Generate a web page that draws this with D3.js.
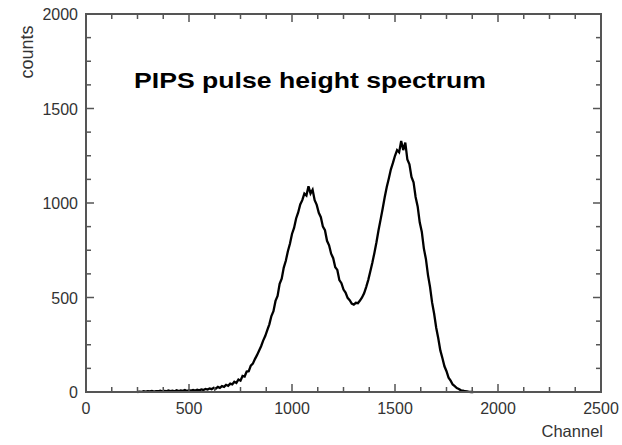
<!DOCTYPE html>
<html>
<head>
<meta charset="utf-8">
<script src="https://cdn.jsdelivr.net/npm/d3@7"></script>
<style>
  body { margin: 0; background: #fff; }
  text { font-family: "Liberation Sans", Arial, sans-serif; }
</style>
</head>
<body>
<div id="chart"></div>
<script>
// Spectrum: counts every 10 channels, starting at channel 250
const channelStart = 250;
const channelStep = 10;
const counts = [
  0, 2, 1, 4, 2, 5, 3, 6, 2, 5,
  4, 7, 3, 6, 4, 8, 5, 7, 4, 9,
  5, 8, 6, 10, 5, 9, 7, 11, 8, 12,
  9, 14, 11, 16, 13, 19, 15, 22, 18, 27,
  22, 31, 27, 38, 33, 44, 40, 54, 48, 66,
  60, 85, 82, 108, 110, 140, 150, 174, 195, 218,
  242, 272, 296, 328, 358, 402, 428, 482, 508, 572,
  600, 658, 694, 745, 784, 836, 868, 918, 950, 992,
  1015, 1050, 1040, 1088, 1050, 1070, 1015, 990, 948, 925,
  875, 856, 800, 776, 732, 708, 660, 646, 592, 576,
  542, 526, 498, 486, 468, 462, 472, 470, 484, 500,
  522, 555, 592, 638, 684, 736, 792, 856, 912, 970,
  1030, 1085, 1130, 1178, 1212, 1250, 1280, 1268, 1328, 1280,
  1320, 1230, 1205, 1138, 1110, 1032, 982, 898, 848, 760,
  704, 620, 556, 474, 414, 340, 284, 220, 180, 136,
  110, 76, 60, 40, 31, 21, 16, 9, 7, 4,
  3, 1, 0, 0
];
const xTicks = [0, 500, 1000, 1500, 2000, 2500];
const yTicks = [0, 500, 1000, 1500, 2000];
const xMinor = d3.range(0, 2501, 125);
const yMinor = d3.range(0, 2001, 125);

const W = 622, H = 445;
const margin = { top: 14, right: 21, bottom: 53, left: 86 };
const width = W - margin.left - margin.right;
const height = H - margin.top - margin.bottom;

const svg = d3.select("#chart").append("svg")
  .attr("width", W).attr("height", H);
const g = svg.append("g")
  .attr("transform", `translate(${margin.left},${margin.top})`);

const x = d3.scaleLinear().domain([0, 2500]).range([0, width]);
const y = d3.scaleLinear().domain([0, 2000]).range([height, 0]);

const frameColor = "#555";

// spectrum line
const data = counts.map((c, i) => [channelStart + i * channelStep, c]);
g.append("path")
  .datum(data)
  .attr("fill", "none")
  .attr("stroke", "#000")
  .attr("stroke-width", 2.3)
  .attr("stroke-linejoin", "miter")
  .attr("d", d3.line().x(d => x(d[0])).y(d => y(d[1])));

// ticks, inward on all four sides
const minorLen = 5, majorLen = 8;
const ticks = g.append("g").attr("stroke", frameColor).attr("stroke-width", 1.5);
xMinor.forEach(v => {
  const len = xTicks.includes(v) ? majorLen : minorLen;
  ticks.append("line").attr("x1", x(v)).attr("x2", x(v)).attr("y1", height).attr("y2", height - len);
  ticks.append("line").attr("x1", x(v)).attr("x2", x(v)).attr("y1", 0).attr("y2", len);
});
yMinor.forEach(v => {
  const len = yTicks.includes(v) ? majorLen : minorLen;
  ticks.append("line").attr("y1", y(v)).attr("y2", y(v)).attr("x1", 0).attr("x2", len);
  ticks.append("line").attr("y1", y(v)).attr("y2", y(v)).attr("x1", width).attr("x2", width - len);
});

// frame
g.append("rect")
  .attr("x", 0).attr("y", 0)
  .attr("width", width).attr("height", height)
  .attr("fill", "none")
  .attr("stroke", frameColor)
  .attr("stroke-width", 2);

// tick labels
g.append("g").selectAll("text")
  .data(xTicks).enter().append("text")
  .attr("x", d => x(d))
  .attr("y", height + 22)
  .attr("text-anchor", "middle")
  .attr("font-size", 16)
  .attr("fill", "#333")
  .text(d => d);

g.append("g").selectAll("text")
  .data(yTicks).enter().append("text")
  .attr("x", -8)
  .attr("y", d => y(d) + 6)
  .attr("text-anchor", "end")
  .attr("font-size", 16)
  .attr("fill", "#333")
  .text(d => d);

// axis titles
svg.append("text")
  .attr("transform", "translate(33,52) rotate(-90)")
  .attr("text-anchor", "middle")
  .attr("font-size", 18)
  .attr("fill", "#333")
  .text("counts");

svg.append("text")
  .attr("x", 603)
  .attr("y", 437)
  .attr("text-anchor", "end")
  .attr("font-size", 16.5)
  .attr("fill", "#333")
  .text("Channel");

// chart title inside plot
svg.append("text")
  .attr("x", 134)
  .attr("y", 88)
  .attr("font-size", 22)
  .attr("font-weight", "bold")
  .attr("fill", "#000")
  .attr("textLength", 352)
  .attr("lengthAdjust", "spacingAndGlyphs")
  .text("PIPS pulse height spectrum");
</script>
</body>
</html>
